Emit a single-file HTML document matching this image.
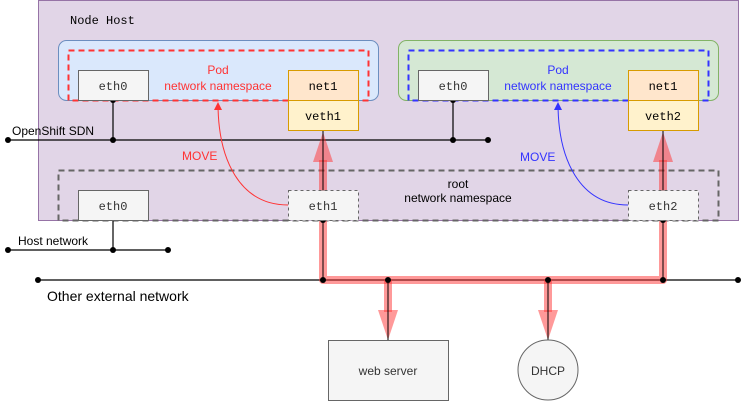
<!DOCTYPE html>
<html><head><style>body{margin:0;background:#fff}svg{display:block}text{font-family:"Liberation Sans",sans-serif}</style></head><body>
<svg width="748" height="401" viewBox="0 0 748 401" xmlns="http://www.w3.org/2000/svg">
<defs>
<marker id="ar" markerWidth="8" markerHeight="8" refX="7" refY="4" orient="auto" markerUnits="userSpaceOnUse"><path d="M0,0L8,4L0,8z" fill="#ff3333"/></marker>
<marker id="ab" markerWidth="8" markerHeight="8" refX="7" refY="4" orient="auto" markerUnits="userSpaceOnUse"><path d="M0,0L8,4L0,8z" fill="#3333ff"/></marker>
</defs>
<rect x="38.5" y="0.5" width="700" height="220" fill="#e1d5e7" stroke="#9673a6"/>
<text x="70" y="24" font-family="Liberation Mono,monospace" font-size="12" style="font-family:'Liberation Mono',monospace">Node Host</text>
<rect x="58.5" y="40.5" width="320" height="60" rx="8" fill="#dae8fc" stroke="#6c8ebf"/>
<rect x="68.5" y="50.5" width="300" height="50" fill="none" stroke="#ff3333" stroke-width="2" stroke-dasharray="6,4"/>
<rect x="398.5" y="40.5" width="320" height="60" rx="8" fill="#d5e8d4" stroke="#82b366"/>
<rect x="408.5" y="50.5" width="300" height="50" fill="none" stroke="#3333ff" stroke-width="2" stroke-dasharray="6,4"/>
<text x="218" y="74" text-anchor="middle" font-size="12" fill="#ff3333">Pod</text>
<text x="218" y="90" text-anchor="middle" font-size="12" fill="#ff3333">network namespace</text>
<text x="558" y="74" text-anchor="middle" font-size="12" fill="#3333ff">Pod</text>
<text x="558" y="90" text-anchor="middle" font-size="12" fill="#3333ff">network namespace</text>
<rect x="58.5" y="170.5" width="660" height="50" fill="none" stroke="#666" stroke-width="2" stroke-dasharray="6,4"/>
<text x="458" y="188" text-anchor="middle" font-size="12">root</text>
<text x="458" y="202" text-anchor="middle" font-size="12">network namespace</text>
<g stroke="#000" stroke-width="1.2" fill="none">
<line x1="8" y1="140" x2="488" y2="140"/>
<line x1="113" y1="100" x2="113" y2="140"/>
<line x1="453" y1="100" x2="453" y2="140"/>
<line x1="8" y1="250" x2="168" y2="250"/>
<line x1="113" y1="220" x2="113" y2="250"/>
<line x1="38" y1="280" x2="738" y2="280"/>
</g>
<g fill="none" stroke="#ff3333" stroke-opacity="0.5" stroke-width="8" stroke-linejoin="round">
<path d="M323,160 V280 H663 V160"/>
<path d="M388,280 V312"/>
<path d="M548,280 V312"/>
</g>
<g fill="#ff3333" fill-opacity="0.5">
<path d="M313,162 L323,132 L333,162z"/>
<path d="M653,162 L663,132 L673,162z"/>
<path d="M378,310 L388,340 L398,310z"/>
<path d="M538,310 L548,340 L558,310z"/>
</g>
<g stroke="#000" stroke-width="1" fill="none">
<line x1="323" y1="130" x2="323" y2="280"/>
<line x1="663" y1="130" x2="663" y2="280"/>
<line x1="388" y1="280" x2="388" y2="340"/>
<line x1="548" y1="280" x2="548" y2="340"/>
</g>
<g fill="#000">
<circle cx="8" cy="140" r="3"/><circle cx="113" cy="140" r="3"/><circle cx="113" cy="100" r="3"/><circle cx="453" cy="140" r="3"/><circle cx="453" cy="100" r="3"/><circle cx="488" cy="140" r="3"/>
<circle cx="8" cy="250" r="3"/><circle cx="113" cy="250" r="3"/><circle cx="168" cy="250" r="3"/>
<circle cx="38" cy="280" r="3"/><circle cx="323" cy="280" r="3"/><circle cx="388" cy="280" r="3"/><circle cx="548" cy="280" r="3"/><circle cx="663" cy="280" r="3"/><circle cx="738" cy="280" r="3"/>
<circle cx="323" cy="220" r="3"/><circle cx="663" cy="220" r="3"/>
</g>
<path d="M288,205 C240,205 218,160 218,103" fill="none" stroke="#ff3333" marker-end="url(#ar)"/>
<path d="M628,205 C580,205 558,160 558,103" fill="none" stroke="#3333ff" marker-end="url(#ab)"/>
<text x="182" y="160" font-size="12" fill="#ff3333">MOVE</text>
<text x="520" y="161" font-size="12" fill="#3333ff">MOVE</text>
<g font-size="12" text-anchor="middle" style="font-family:'Liberation Mono',monospace">
<rect x="78.5" y="70.5" width="70" height="30" fill="#f5f5f5" stroke="#666"/><text x="113" y="90" fill="#333" style="font-family:'Liberation Mono',monospace">eth0</text>
<rect x="418.5" y="70.5" width="70" height="30" fill="#f5f5f5" stroke="#666"/><text x="453" y="90" fill="#333" style="font-family:'Liberation Mono',monospace">eth0</text>
<rect x="288.5" y="70.5" width="70" height="30" fill="#ffe6cc" stroke="#d79b00"/><text x="323" y="90" style="font-family:'Liberation Mono',monospace">net1</text>
<rect x="288.5" y="100.5" width="70" height="30" fill="#fff2cc" stroke="#d79b00"/><text x="323" y="120" style="font-family:'Liberation Mono',monospace">veth1</text>
<rect x="628.5" y="70.5" width="70" height="30" fill="#ffe6cc" stroke="#d79b00"/><text x="663" y="90" style="font-family:'Liberation Mono',monospace">net1</text>
<rect x="628.5" y="100.5" width="70" height="30" fill="#fff2cc" stroke="#d79b00"/><text x="663" y="120" style="font-family:'Liberation Mono',monospace">veth2</text>
<rect x="78.5" y="190.5" width="70" height="30" fill="#f5f5f5" stroke="#666"/><text x="113" y="210" fill="#333" style="font-family:'Liberation Mono',monospace">eth0</text>
<rect x="288.5" y="190.5" width="70" height="30" fill="#f5f5f5" stroke="#666" stroke-dasharray="3,3"/><text x="323" y="210" fill="#333" style="font-family:'Liberation Mono',monospace">eth1</text>
<rect x="628.5" y="190.5" width="70" height="30" fill="#f5f5f5" stroke="#666" stroke-dasharray="3,3"/><text x="663" y="210" fill="#333" style="font-family:'Liberation Mono',monospace">eth2</text>
</g>
<text x="12" y="135" font-size="12">OpenShift SDN</text>
<text x="18" y="245" font-size="12">Host network</text>
<text x="47" y="301" font-size="14">Other external network</text>
<rect x="328.5" y="340.5" width="120" height="60" fill="#f5f5f5" stroke="#666"/>
<text x="388" y="375" text-anchor="middle" font-size="12" fill="#333">web server</text>
<circle cx="548" cy="370" r="30" fill="#f5f5f5" stroke="#666"/>
<text x="548" y="375" text-anchor="middle" font-size="12" fill="#333">DHCP</text>
</svg>
</body></html>
